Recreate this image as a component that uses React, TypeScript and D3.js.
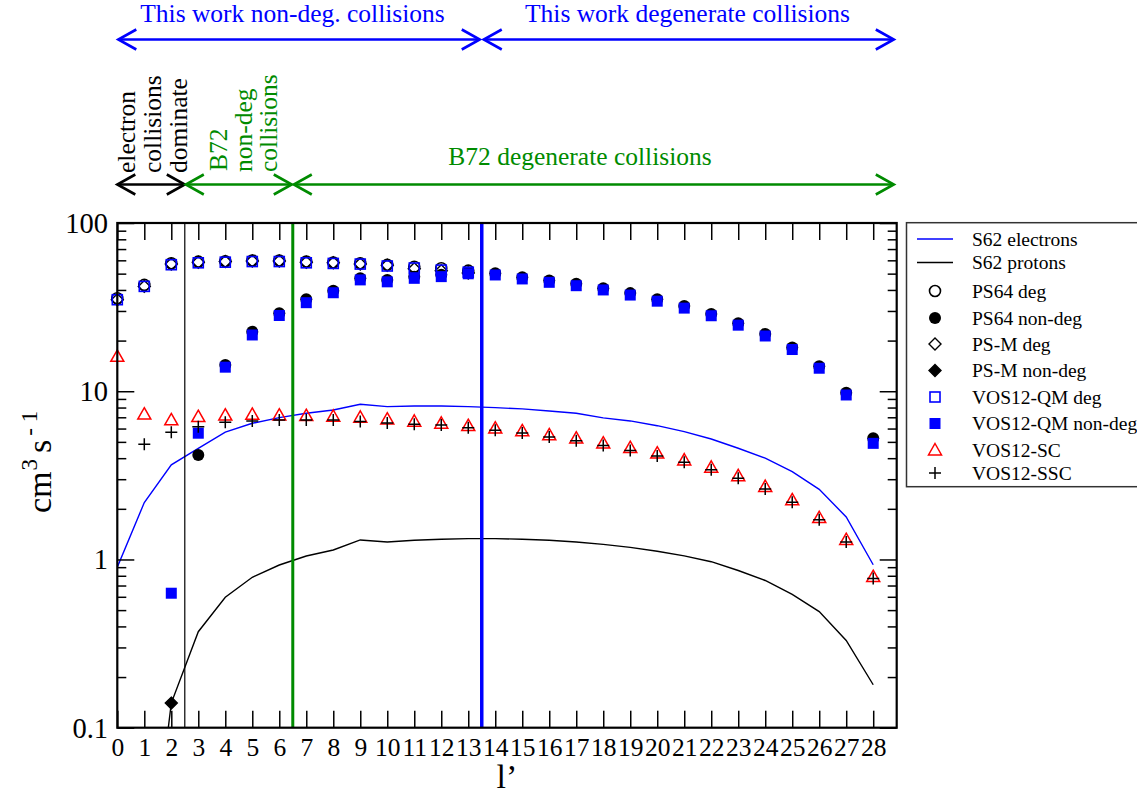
import React, { useRef, useEffect } from 'react';
import * as d3 from 'd3';

// l' values and series
const lTicks = [0, 1, 2, 3, 4, 5, 6, 7, 8, 9, 10, 11, 12, 13, 14, 15, 16, 17, 18, 19, 20, 21, 22, 23, 24, 25, 26, 27, 28];
const yTicks = [0.1, 1, 10, 100];
const yTickLabels = ['0.1', '1', '10', '100'];
const yMinor = [0.2, 0.3, 0.4, 0.5, 0.6, 0.7, 0.8, 0.9, 2, 3, 4, 5, 6, 7, 8, 9, 20, 30, 40, 50, 60, 70, 80, 90];

const s62ElectronsL = [0, 1, 2, 3, 4, 5, 6, 7, 8, 9, 10, 11, 12, 13, 14, 15, 16, 17, 18, 19, 20, 21, 22, 23, 24, 25, 26, 27, 28];
const s62Electrons = [0.9, 2.18, 3.65, 4.58, 5.71, 6.45, 6.97, 7.4, 7.74, 8.37, 8.1, 8.17, 8.17, 8.1, 7.99, 7.85, 7.63, 7.4, 6.94, 6.66, 6.24, 5.75, 5.2, 4.58, 4.0, 3.33, 2.61, 1.79, 0.93];

const s62ProtonsL = [1, 2, 3, 4, 5, 6, 7, 8, 9, 10, 11, 12, 13, 14, 15, 16, 17, 18, 19, 20, 21, 22, 23, 24, 25, 26, 27, 28];
const s62Protons = [0.0067, 0.14, 0.372, 0.596, 0.784, 0.927, 1.049, 1.139, 1.306, 1.27, 1.3, 1.32, 1.33, 1.33, 1.32, 1.3, 1.27, 1.23, 1.18, 1.12, 1.05, 0.97, 0.86, 0.75, 0.62, 0.49, 0.33, 0.18];

const degL = [0, 1, 2, 3, 4, 5, 6, 7, 8, 9, 10, 11, 12, 13];
const ps64Deg = [35.7, 42.9, 57.7, 58.9, 59.3, 59.9, 59.9, 59.0, 58.2, 57.7, 56.4, 55.0, 53.8, 52.1];
const psmDeg = [35.0, 42.0, 57.0, 58.5, 59.0, 59.5, 59.5, 58.5, 58.0, 57.0, 56.0, 53.5, 52.0, 50.5];
const vosQmDeg = [35.0, 42.0, 56.5, 58.0, 58.5, 59.0, 59.0, 58.0, 57.5, 57.0, 55.5, 54.0, 52.5, 51.0];

const ps64NonDegL = [3, 4, 5, 6, 7, 8, 9, 10, 11, 12, 13, 14, 15, 16, 17, 18, 19, 20, 21, 22, 23, 24, 25, 26, 27, 28];
const ps64NonDeg = [4.18, 14.3, 22.6, 29.1, 35.2, 39.6, 47.0, 45.9, 48.0, 49.2, 51.0, 50.3, 47.6, 45.5, 43.5, 41.0, 38.3, 35.2, 32.1, 28.8, 25.4, 21.9, 18.2, 14.1, 9.8, 5.26];

const psmNonDegL = [2];
const psmNonDeg = [0.14];

const vosQmNonDegL = [2, 3, 4, 5, 6, 7, 8, 9, 10, 11, 12, 13, 14, 15, 16, 17, 18, 19, 20, 21, 22, 23, 24, 25, 26, 27, 28];
const vosQmNonDeg = [0.63, 5.63, 13.9, 21.6, 28.2, 33.6, 38.5, 45.9, 44.7, 46.9, 48.0, 49.9, 49.1, 46.5, 44.4, 42.4, 40.0, 37.3, 34.3, 31.2, 28.1, 24.7, 21.3, 17.7, 13.7, 9.5, 4.9];

const vosScL = [0, 1, 2, 3, 4, 5, 6, 7, 8, 9, 10, 11, 12, 13, 14, 15, 16, 17, 18, 19, 20, 21, 22, 23, 24, 25, 26, 27, 28];
const vosSc = [16.1, 7.3, 6.75, 7.06, 7.2, 7.28, 7.2, 7.15, 7.1, 7.0, 6.82, 6.63, 6.45, 6.24, 6.03, 5.81, 5.5, 5.26, 4.91, 4.62, 4.28, 3.9, 3.53, 3.14, 2.71, 2.26, 1.77, 1.31, 0.79];

const vosSscL = [1, 2, 3, 4, 5, 6, 7, 8, 9, 10, 11, 12, 13, 14, 15, 16, 17, 18, 19, 20, 21, 22, 23, 24, 25, 26, 27, 28];
const vosSsc = [4.84, 5.7, 6.16, 6.54, 6.66, 6.75, 6.75, 6.75, 6.6, 6.47, 6.37, 6.3, 6.06, 5.87, 5.65, 5.35, 5.08, 4.75, 4.45, 4.12, 3.78, 3.42, 3.04, 2.62, 2.19, 1.72, 1.27, 0.77];

const legendLabels = ['S62 electrons', 'S62 protons', 'PS64 deg', 'PS64 non-deg', 'PS-M deg', 'PS-M non-deg', 'VOS12-QM deg', 'VOS12-QM non-deg', 'VOS12-SC', 'VOS12-SSC'];

const FONT = '"Liberation Serif", "DejaVu Serif", serif';
const BLUE = '#0000ff';
const GREEN = '#008b00';
const RED = '#ff0000';

type Sym = 'circleOpen' | 'circle' | 'diamondOpen' | 'diamond' | 'squareOpen' | 'square' | 'triangle' | 'plus';

const App: React.FC = () => {
  const svgRef = useRef<SVGSVGElement | null>(null);

  useEffect(() => {
    const svg = d3.select(svgRef.current);
    svg.selectAll('*').remove();

    const x = d3.scaleLinear().domain([0, 28.87]).range([117.3, 896.7]);
    const y = d3.scaleLog().domain([0.1, 100]).range([727.7, 223]);
    const [x0, x1] = x.range();
    const [yb, yt] = y.range();

    svg.append('defs').append('clipPath').attr('id', 'plotClip')
      .append('rect').attr('x', x0).attr('y', yt).attr('width', x1 - x0).attr('height', yb - yt);

    const drawSym = (g: any, sym: Sym, cx: number, cy: number) => {
      if (sym === 'circleOpen') {
        g.append('circle').attr('cx', cx).attr('cy', cy).attr('r', 5.5).attr('fill', 'none').attr('stroke', '#000').attr('stroke-width', 1.6);
      } else if (sym === 'circle') {
        g.append('circle').attr('cx', cx).attr('cy', cy).attr('r', 6).attr('fill', '#000');
      } else if (sym === 'diamondOpen' || sym === 'diamond') {
        const s = 6;
        g.append('path').attr('d', `M${cx},${cy - s}L${cx + s},${cy}L${cx},${cy + s}L${cx - s},${cy}Z`)
          .attr('fill', sym === 'diamond' ? '#000' : 'none').attr('stroke', '#000').attr('stroke-width', 1.4);
      } else if (sym === 'squareOpen') {
        g.append('rect').attr('x', cx - 5).attr('y', cy - 5).attr('width', 10).attr('height', 10)
          .attr('fill', 'none').attr('stroke', BLUE).attr('stroke-width', 1.6);
      } else if (sym === 'square') {
        g.append('rect').attr('x', cx - 5.5).attr('y', cy - 5.5).attr('width', 11).attr('height', 11).attr('fill', BLUE);
      } else if (sym === 'triangle') {
        const s = 6.5;
        g.append('path').attr('d', `M${cx},${cy - s}L${cx + s},${cy + s * 0.75}L${cx - s},${cy + s * 0.75}Z`)
          .attr('fill', 'none').attr('stroke', RED).attr('stroke-width', 1.5);
      } else if (sym === 'plus') {
        const s = 6;
        g.append('path').attr('d', `M${cx - s},${cy}H${cx + s}M${cx},${cy - s}V${cy + s}`)
          .attr('stroke', '#000').attr('stroke-width', 1.5);
      }
    };

    // top annotations: open-head double arrows
    const arrow = (xa: number, xb: number, yy: number, color: string, w: number) => {
      const g = svg.append('g').attr('stroke', color).attr('fill', 'none').attr('stroke-width', w);
      g.append('line').attr('x1', xa).attr('x2', xb).attr('y1', yy).attr('y2', yy);
      g.append('path').attr('d', `M${xa + 18},${yy - 10}L${xa},${yy}L${xa + 18},${yy + 10}`);
      g.append('path').attr('d', `M${xb - 18},${yy - 10}L${xb},${yy}L${xb - 18},${yy + 10}`);
    };
    arrow(x(0) + 1, x(13.5) - 2, 39.5, BLUE, 2.6);
    arrow(x(13.5) + 2, x(28.8) - 1, 39.5, BLUE, 2.6);
    arrow(x(0), x(2.5), 184.5, '#000', 2.6);
    arrow(x(2.5) + 1, x(6.5) - 1, 184.5, GREEN, 2.6);
    arrow(x(6.5) + 1, x(28.8) - 1, 184.5, GREEN, 2.6);

    svg.append('text').attr('x', 292.5).attr('y', 22).attr('text-anchor', 'middle')
      .attr('font-family', FONT).attr('font-size', 25.5).attr('fill', BLUE).text('This work non-deg. collisions');
    svg.append('text').attr('x', 687.5).attr('y', 22).attr('text-anchor', 'middle')
      .attr('font-family', FONT).attr('font-size', 25.5).attr('fill', BLUE).text('This work degenerate collisions');
    svg.append('text').attr('x', 580).attr('y', 165).attr('text-anchor', 'middle')
      .attr('font-family', FONT).attr('font-size', 25.5).attr('fill', GREEN).text('B72 degenerate collisions');

    const vText = (bx: number, by: number, txt: string, color: string) => {
      svg.append('text').attr('transform', `translate(${bx},${by}) rotate(-90)`)
        .attr('font-family', FONT).attr('font-size', 25.5).attr('fill', color).text(txt);
    };
    vText(135, 173, 'electron', '#000');
    vText(161, 173, 'collisions', '#000');
    vText(187, 173, 'dominate', '#000');
    vText(227, 171, 'B72', GREEN);
    vText(252, 172, 'non-deg', GREEN);
    vText(277, 172, 'collisions', GREEN);

    // S62 curves
    const plot = svg.append('g').attr('clip-path', 'url(#plotClip)');
    const line = d3.line<[number, number]>().x(d => x(d[0])).y(d => y(d[1]));
    plot.append('path').datum(s62ElectronsL.map((l, i) => [l, s62Electrons[i]] as [number, number]))
      .attr('d', line).attr('fill', 'none').attr('stroke', BLUE).attr('stroke-width', 1.4);
    plot.append('path').datum(s62ProtonsL.map((l, i) => [l, s62Protons[i]] as [number, number]))
      .attr('d', line).attr('fill', 'none').attr('stroke', '#000').attr('stroke-width', 1.4);

    // region separators
    plot.append('line').attr('x1', x(2.5)).attr('x2', x(2.5)).attr('y1', yt).attr('y2', yb)
      .attr('stroke', '#000').attr('stroke-width', 1.2);
    plot.append('line').attr('x1', x(6.5)).attr('x2', x(6.5)).attr('y1', yt).attr('y2', yb)
      .attr('stroke', GREEN).attr('stroke-width', 3);
    plot.append('line').attr('x1', x(13.5)).attr('x2', x(13.5)).attr('y1', yt).attr('y2', yb)
      .attr('stroke', BLUE).attr('stroke-width', 3.5);

    const series: [number[], number[], Sym][] = [
      [degL, ps64Deg, 'circleOpen'],
      [ps64NonDegL, ps64NonDeg, 'circle'],
      [degL, psmDeg, 'diamondOpen'],
      [psmNonDegL, psmNonDeg, 'diamond'],
      [degL, vosQmDeg, 'squareOpen'],
      [vosQmNonDegL, vosQmNonDeg, 'square'],
      [vosScL, vosSc, 'triangle'],
      [vosSscL, vosSsc, 'plus'],
    ];
    series.forEach(([ls, vs, sym]) => {
      const g = svg.append('g');
      ls.forEach((l, i) => drawSym(g, sym, x(l), y(vs[i])));
    });

    // axes: inward ticks on all four sides
    const styleAxis = (a: any) => {
      a.select('.domain').remove();
      a.selectAll('.tick line').attr('stroke', '#000').attr('stroke-width', 1.5);
    };
    const bottom = svg.append('g').attr('transform', `translate(0,${yb})`)
      .call(d3.axisBottom(x).tickValues(lTicks).tickSizeInner(-17).tickSizeOuter(0).tickPadding(10).tickFormat(d3.format('d')));
    styleAxis(bottom);
    bottom.selectAll('.tick text').attr('font-family', FONT).attr('font-size', 25.5).attr('fill', '#000');

    const top = svg.append('g').attr('transform', `translate(0,${yt})`)
      .call(d3.axisTop(x).tickValues(lTicks).tickSizeInner(-17).tickSizeOuter(0).tickFormat(() => ''));
    styleAxis(top);

    const left = svg.append('g').attr('transform', `translate(${x0},0)`)
      .call(d3.axisLeft(y).tickValues(yTicks).tickSizeInner(-17).tickSizeOuter(0).tickFormat(() => ''));
    styleAxis(left);
    yTicks.forEach((v, i) => {
      svg.append('text').attr('x', 108).attr('y', y(v)).attr('dy', '0.35em').attr('text-anchor', 'end')
        .attr('font-family', FONT).attr('font-size', 28.5).text(yTickLabels[i]);
    });
    const leftMinor = svg.append('g').attr('transform', `translate(${x0},0)`)
      .call(d3.axisLeft(y).tickValues(yMinor).tickSizeInner(-9).tickSizeOuter(0).tickFormat(() => ''));
    styleAxis(leftMinor);

    const right = svg.append('g').attr('transform', `translate(${x1},0)`)
      .call(d3.axisRight(y).tickValues(yTicks).tickSizeInner(-17).tickSizeOuter(0).tickFormat(() => ''));
    styleAxis(right);
    const rightMinor = svg.append('g').attr('transform', `translate(${x1},0)`)
      .call(d3.axisRight(y).tickValues(yMinor).tickSizeInner(-9).tickSizeOuter(0).tickFormat(() => ''));
    styleAxis(rightMinor);

    svg.append('rect').attr('x', x0).attr('y', yt).attr('width', x1 - x0).attr('height', yb - yt)
      .attr('fill', 'none').attr('stroke', '#000').attr('stroke-width', 2.2);

    // axis titles
    svg.append('text').attr('x', 507).attr('y', 788).attr('text-anchor', 'middle')
      .attr('font-family', FONT).attr('font-size', 34).text('l\u2019');
    const yl = svg.append('text').attr('transform', 'translate(51,513) rotate(-90)')
      .attr('font-family', FONT).attr('font-size', 34);
    yl.append('tspan').text('cm');
    yl.append('tspan').attr('dx', 1).attr('dy', -14).attr('font-size', 23).text('3');
    yl.append('tspan').attr('dx', 6).attr('dy', 14).text('s');
    yl.append('tspan').attr('dx', 4).attr('dy', -14).attr('font-size', 23).text('- 1');

    // legend
    const lg = svg.append('g');
    lg.append('rect').attr('x', 906.5).attr('y', 222.7).attr('width', 250).attr('height', 264)
      .attr('fill', '#fff').attr('stroke', '#333').attr('stroke-width', 1.5);
    const rowY = [239, 262.5, 291, 318, 344, 370.5, 397, 423.5, 450, 473];
    const legendSyms: (Sym | string)[] = ['lineBlue', 'lineBlack', 'circleOpen', 'circle', 'diamondOpen', 'diamond', 'squareOpen', 'square', 'triangle', 'plus'];
    legendLabels.forEach((lab, i) => {
      const ry = rowY[i];
      const s = legendSyms[i];
      if (s === 'lineBlue' || s === 'lineBlack') {
        lg.append('line').attr('x1', 917).attr('x2', 953).attr('y1', ry).attr('y2', ry)
          .attr('stroke', s === 'lineBlue' ? BLUE : '#000').attr('stroke-width', 1.4);
      } else {
        drawSym(lg, s as Sym, 935, ry);
      }
      lg.append('text').attr('x', 972).attr('y', ry + 6.5).attr('font-family', FONT).attr('font-size', 19.5).text(lab);
    });
  }, []);

  return (
    <svg ref={svgRef} width={1137} height={794}
      style={{ position: 'absolute', left: 0, top: 0, background: '#fff' }} />
  );
};

export default App;
